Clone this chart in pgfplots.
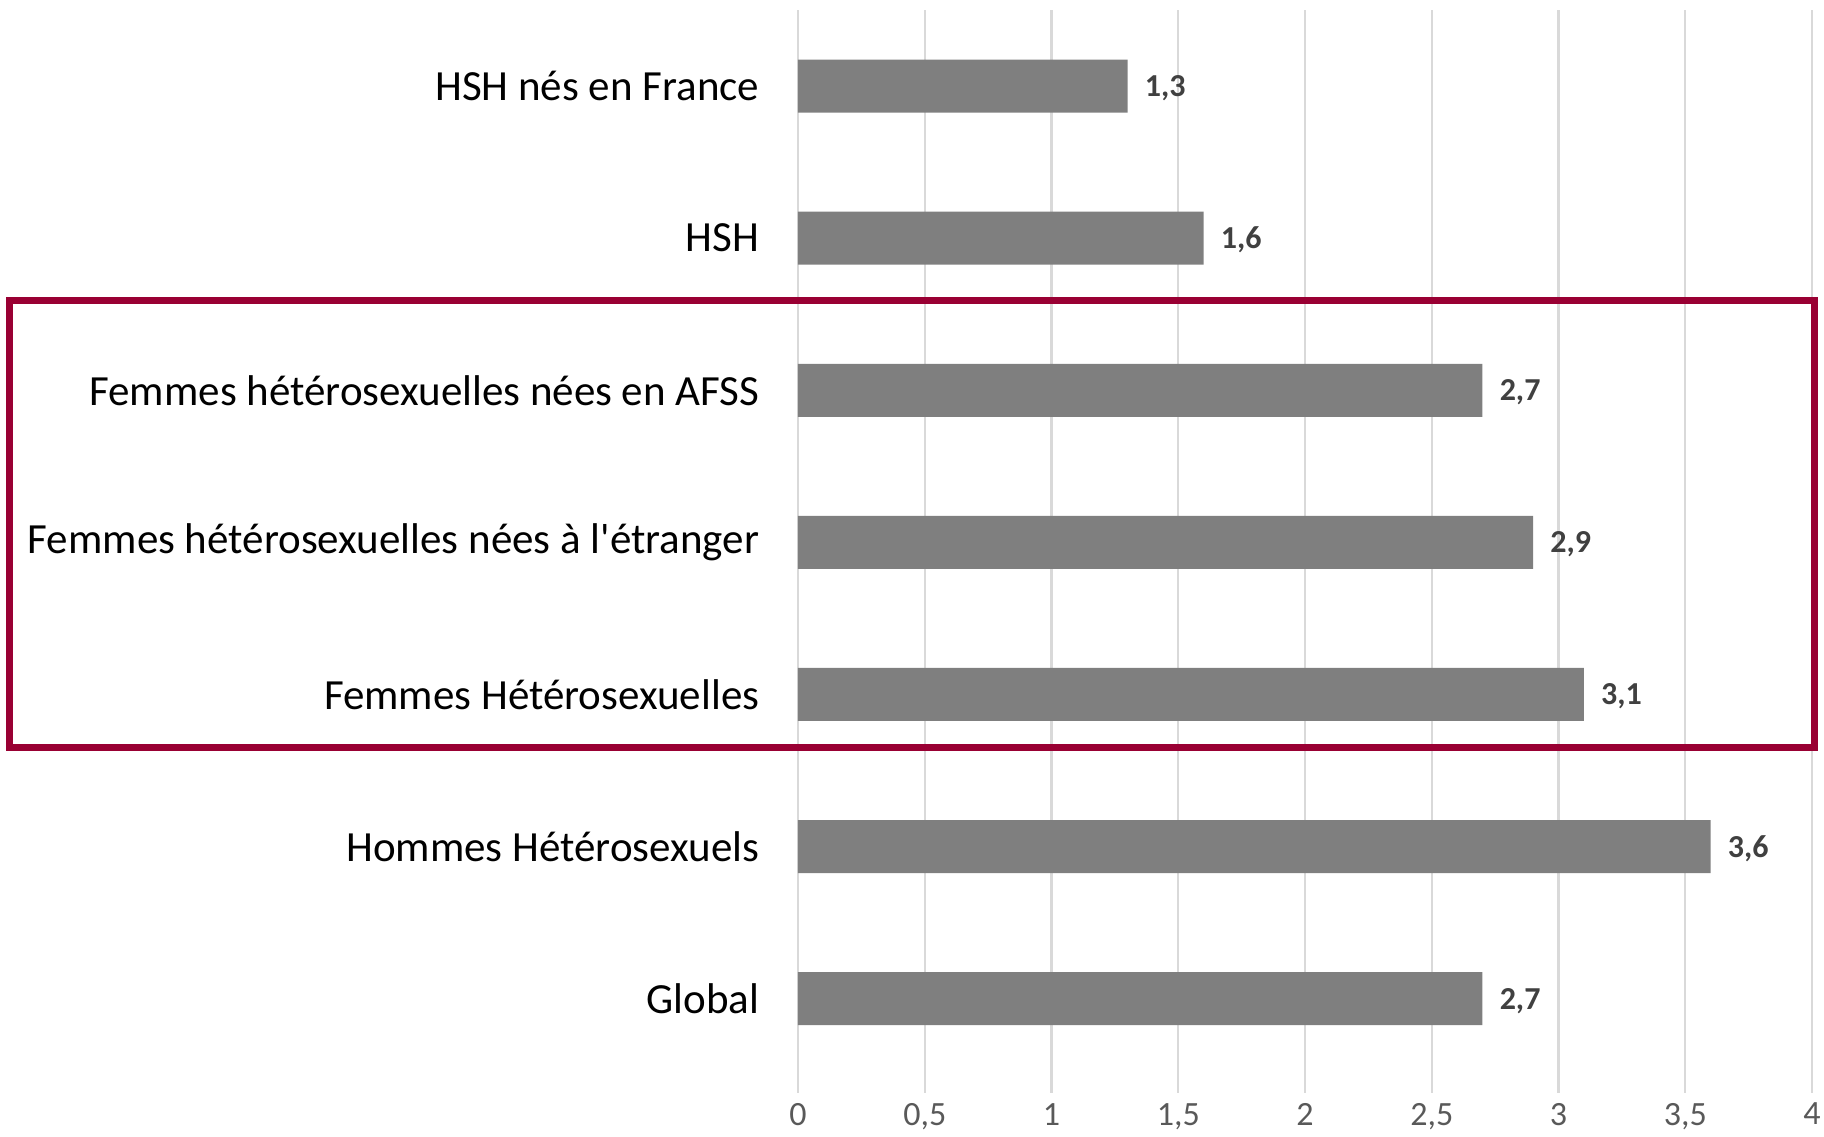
\documentclass[border=0pt]{standalone}
\usepackage{pgfplots}
\pgfplotsset{compat=1.18}
\usepackage{fontspec}
\setmainfont{Carlito}
\definecolor{bargray}{RGB}{127,127,127}
\definecolor{gridgray}{RGB}{217,217,217}
\definecolor{tickgray}{RGB}{89,89,89}
\definecolor{valgray}{RGB}{64,64,64}
\definecolor{boxred}{RGB}{153,0,51}
\begin{document}
\begin{tikzpicture}
\useasboundingbox (0,0) rectangle (456pt,284.25pt);
\begin{axis}[
  at={(199.5pt,11pt)}, anchor=south west,
  scale only axis, width=253.5pt, height=270.75pt,
  xbar, bar width=13.25pt,
  xmin=0, xmax=4, ymin=-0.62, ymax=6.5,
  xtick={0,0.5,1,1.5,2,2.5,3,3.5,4},
  ytick={0,1,2,3,4,5,6},
  yticklabels={Global, Hommes Hétérosexuels, Femmes Hétérosexuelles, {Femmes hétérosexuelles nées à l\textquotesingle étranger}, Femmes hétérosexuelles nées en AFSS, HSH, HSH nés en France},
  xmajorgrids, grid style={gridgray, line width=0.6pt},
  axis line style={draw=none}, major tick style={draw=none},
  /pgf/number format/use comma,
  /pgf/number format/assume math mode=true,
  xticklabel style={font=\fontsize{8.5}{10}\selectfont, text=tickgray, yshift=1pt},
  yticklabel style={font=\fontsize{10.75}{12}\selectfont, text=black, xshift=-1.9pt},
  nodes near coords={\pgfmathprintnumber[fixed, fixed zerofill, precision=1, use comma, assume math mode=true]{\pgfplotspointmeta}},
  nodes near coords style={font=\bfseries\fontsize{8}{10}\selectfont, text=valgray, xshift=0.8pt, yshift=-0.5pt},
  clip=false,
]
\addplot[fill=bargray, draw=none] coordinates {
  (2.7,0) (3.6,1) (3.1,2) (2.9,3) (2.7,4) (1.6,5) (1.3,6)
};
\draw[boxred, line width=1.75pt] (axis cs:-3.11,1.65) rectangle (axis cs:4.01,4.59);
\end{axis}
\end{tikzpicture}
\end{document}
